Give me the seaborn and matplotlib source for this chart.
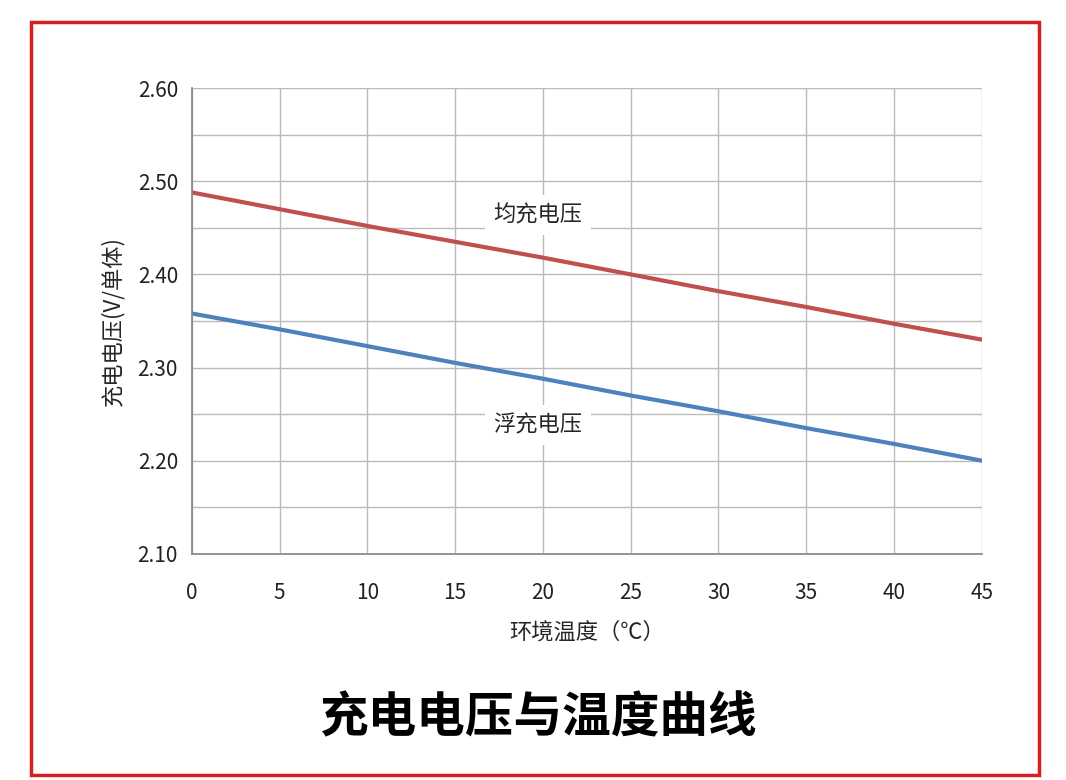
import matplotlib
matplotlib.use("Agg")
import matplotlib.pyplot as plt
import seaborn as sns
import pandas as pd
from matplotlib.patches import Rectangle

temps = [0, 5, 10, 15, 20, 25, 30, 35, 40, 45]
equal_v = [2.488, 2.470, 2.452, 2.435, 2.418, 2.400, 2.382, 2.365, 2.347, 2.330]
float_v = [2.358, 2.341, 2.323, 2.305, 2.288, 2.270, 2.253, 2.235, 2.218, 2.200]

sns.set_theme(style="white")
plt.rcParams["font.family"] = ["Noto Sans CJK SC", "DejaVu Sans"]

data = pd.DataFrame({"temp": temps, "equal": equal_v, "float": float_v})

fig = plt.figure(figsize=(10.66, 7.8), dpi=100)
fig.patches.append(Rectangle((0.029, 0.007), 0.946, 0.965, transform=fig.transFigure,
                             fill=False, edgecolor="#d42020", linewidth=2.5))
ax = fig.add_axes([0.180, 0.290, 0.741, 0.597])

sns.lineplot(data=data, x="temp", y="equal", color="#c0504d", linewidth=3, ax=ax)
sns.lineplot(data=data, x="temp", y="float", color="#4f81bd", linewidth=3, ax=ax)

ax.set_xlim(0, 45)
ax.set_ylim(2.10, 2.60)
ax.set_xticks(temps)
ax.set_yticks([2.10, 2.20, 2.30, 2.40, 2.50, 2.60])
ax.set_yticklabels(["2.10", "2.20", "2.30", "2.40", "2.50", "2.60"])
ax.set_yticks([2.15, 2.25, 2.35, 2.45, 2.55], minor=True)
ax.grid(True, which="both", color="#bbbbbb", linewidth=1)
ax.set_axisbelow(True)
for s in ["top", "right"]:
    ax.spines[s].set_visible(False)
for s in ["left", "bottom"]:
    ax.spines[s].set_color("#888888")
ax.tick_params(axis="y", labelsize=15, colors="#222222", length=0, pad=10)
ax.tick_params(axis="x", labelsize=15, colors="#222222", length=0, pad=20)

ax.text(19.7, 2.464, "均充电压", fontsize=16, ha="center", va="center",
        bbox=dict(facecolor="white", edgecolor="none", pad=6))
ax.text(19.7, 2.238, "浮充电压", fontsize=16, ha="center", va="center",
        bbox=dict(facecolor="white", edgecolor="none", pad=6))

ax.set_xlabel("环境温度（℃）", fontsize=16, labelpad=12)
ax.set_ylabel("充电电压(V/单体)", fontsize=16, labelpad=10)

fig.text(0.505, 0.08, "充电电压与温度曲线", fontsize=35, fontweight="bold",
         color="black", ha="center", va="center")

fig.savefig("out.png", dpi=100)
